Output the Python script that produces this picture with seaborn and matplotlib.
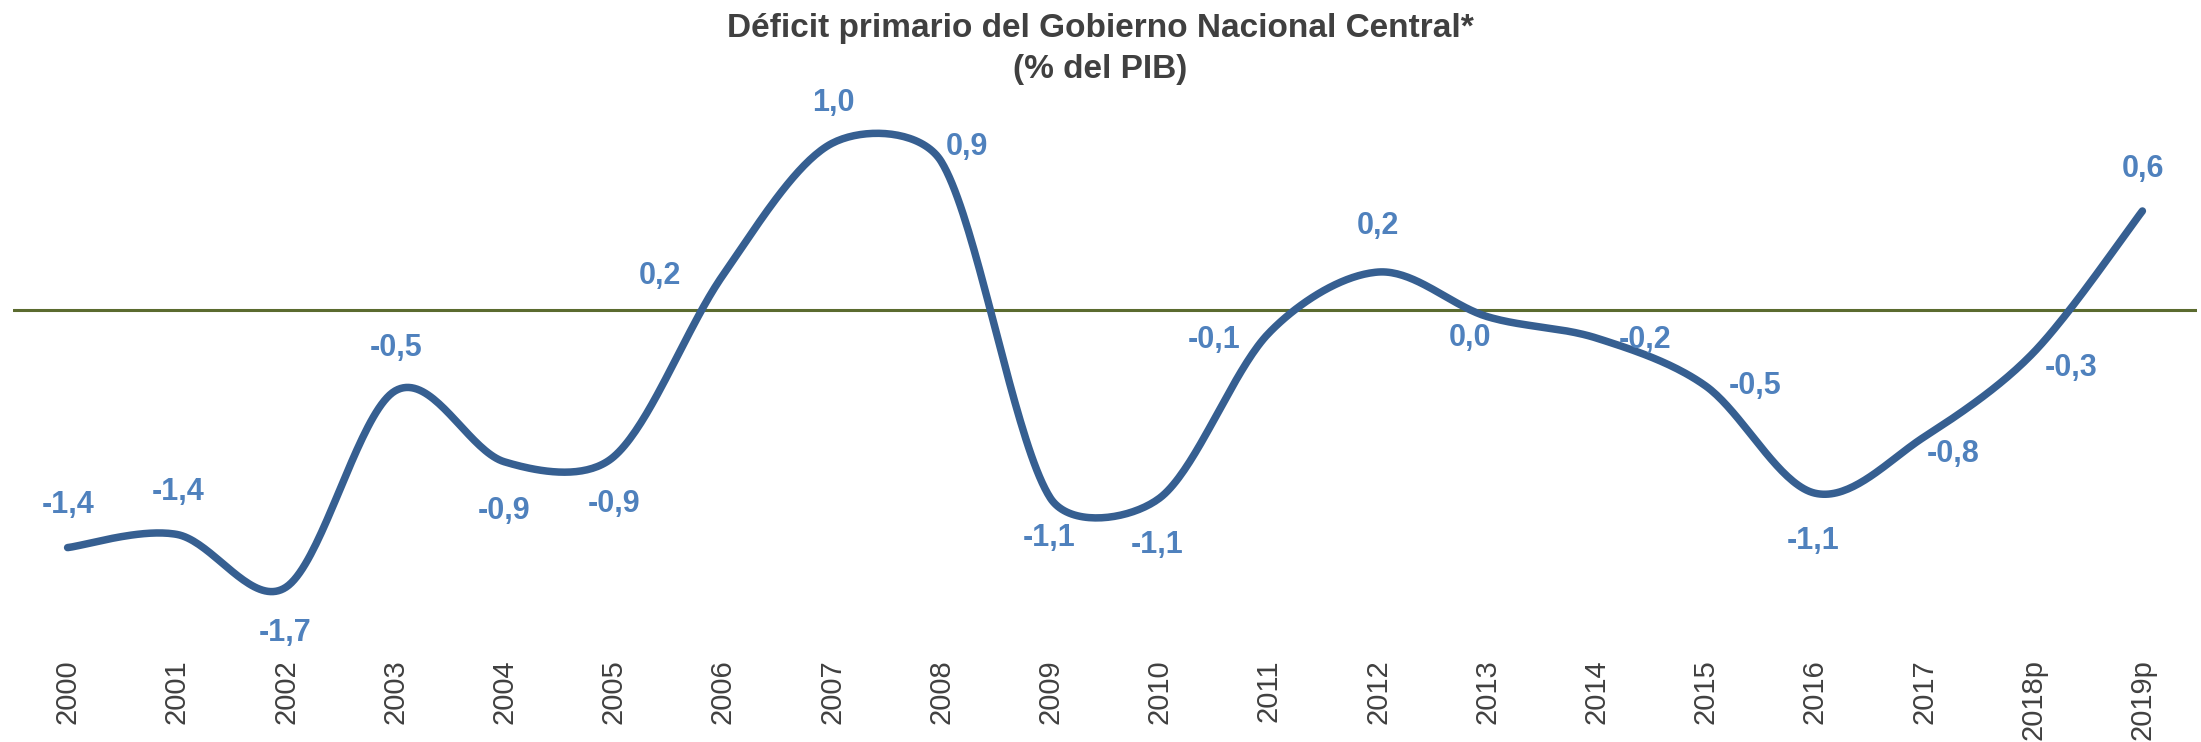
import numpy as np
import matplotlib
matplotlib.use("Agg")
import matplotlib.pyplot as plt
import seaborn as sns

# Data: primary deficit of the central government (% of GDP)
years = ["2000", "2001", "2002", "2003", "2004", "2005", "2006", "2007", "2008", "2009",
         "2010", "2011", "2012", "2013", "2014", "2015", "2016", "2017", "2018p", "2019p"]
deficit = [-1.44, -1.36, -1.68, -0.49, -0.92, -0.89, 0.21, 1.01, 0.90, -1.14,
           -1.14, -0.14, 0.23, -0.04, -0.17, -0.46, -1.11, -0.77, -0.26, 0.60]

# label offsets in pixels (dx right, dy down) relative to each point
label_offsets = [(1, -43), (1, -42), (-1, 46), (1, -43), (0, 49), (0, 47), (-63, 1),
                 (1, -40), (26, -15), (-1, 40), (-2, 47), (-55, 7), (0, -46), (-17, 21),
                 (49, 2), (50, 0), (-2, 48), (29, 17), (38, 15), (1, -42)]

LINE_COLOR = "#365F91"
LABEL_COLOR = "#4F81BD"
ZERO_COLOR = "#5B6B2F"
TEXT_COLOR = "#404040"


def excel_smooth(values, sx, sy, n=40):
    """Bezier smoothing like Excel's 'smoothed line' (worked out in pixel space)."""
    pts = np.column_stack([np.arange(len(values), dtype=float) * sx,
                           np.asarray(values, float) * sy])
    segs = []
    for i in range(len(pts) - 1):
        p0 = pts[i - 1] if i > 0 else pts[i]
        p1, p2 = pts[i], pts[i + 1]
        p3 = pts[i + 2] if i + 2 < len(pts) else pts[i + 1]
        lim = np.hypot(*(p2 - p1)) / 3
        t1 = (p2 - p0) / 6
        t2 = (p3 - p1) / 6
        t1 *= min(1, lim / max(np.hypot(*t1), 1e-9))
        t2 *= min(1, lim / max(np.hypot(*t2), 1e-9))
        c1, c2 = p1 + t1, p2 - t2
        t = np.linspace(0, 1, n, endpoint=(i == len(pts) - 2))[:, None]
        segs.append((1 - t) ** 3 * p1 + 3 * (1 - t) ** 2 * t * c1
                    + 3 * (1 - t) * t ** 2 * c2 + t ** 3 * p2)
    out = np.vstack(segs)
    return out[:, 0] / sx, out[:, 1] / sy


sns.set_theme(style="white")
plt.rcParams['font.family'] = ['Liberation Sans', 'DejaVu Sans']

W, H = 2201, 742
fig = plt.figure(figsize=(W / 100, H / 100), dpi=100)
ax = fig.add_axes([13 / W, (H - 640) / H, 2184 / W, 561 / H])
xlim = (-0.5, len(years) - 0.5)
ylim = (-2.0, 1.4)
ax.set_xlim(*xlim)
ax.set_ylim(*ylim)

ax.axhline(0, color=ZERO_COLOR, linewidth=2.2, zorder=1)

sx = 2184 / (xlim[1] - xlim[0])
sy = 561 / (ylim[1] - ylim[0])
cx, cy = excel_smooth(deficit, sx, sy)
sns.lineplot(x=cx, y=cy, sort=False, estimator=None,
             color=LINE_COLOR, linewidth=5.4, solid_capstyle='round', ax=ax, zorder=2)

for i, (v, (dx, dy)) in enumerate(zip(deficit, label_offsets)):
    txt = f"{v:.1f}".replace(".", ",")
    if txt == "-0,0":
        txt = "0,0"
    ax.annotate(txt, (i, v), xytext=(dx, -dy), textcoords='offset pixels',
                ha='center', va='center', fontsize=22, fontweight='bold',
                color=LABEL_COLOR, zorder=3)

ax.set_xlim(*xlim)
ax.set_ylim(*ylim)
ax.set_xticks(range(len(years)))
ax.set_xticklabels(years, rotation=90, fontsize=21, color=TEXT_COLOR)
ax.tick_params(axis='x', length=0, pad=14)
ax.set_yticks([])
ax.set_xlabel("")
ax.set_ylabel("")
for s in ax.spines.values():
    s.set_visible(False)

fig.text(0.5, 1 - 37 / H, "Déficit primario del Gobierno Nacional Central*",
         ha='center', va='baseline', fontsize=24, fontweight='bold', color=TEXT_COLOR)
fig.text(0.5, 1 - 78 / H, "(% del PIB)",
         ha='center', va='baseline', fontsize=24, fontweight='bold', color=TEXT_COLOR)

fig.savefig("out.png", dpi=100, facecolor="white")
